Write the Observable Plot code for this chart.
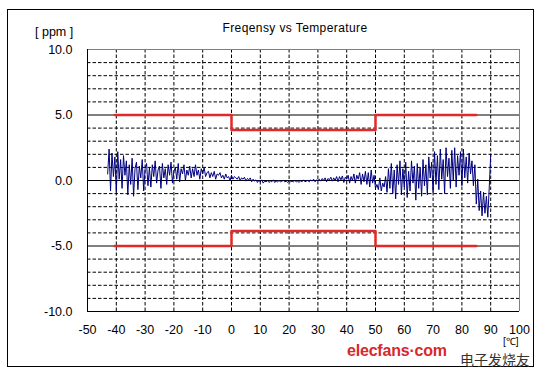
<!DOCTYPE html>
<html>
<head>
<meta charset="utf-8">
<script src="https://cdn.jsdelivr.net/npm/d3@7"></script>
<script src="https://cdn.jsdelivr.net/npm/@observablehq/plot@0.6"></script>
<style>
  html, body { margin: 0; padding: 0; background: #fff; }
  #wrap { position: relative; width: 550px; height: 372px; font-family: "Liberation Sans", Arial, sans-serif; }
  #frame { position: absolute; left: 7px; top: 9px; width: 525px; height: 356px; border: 1px solid #000; pointer-events: none; }
  .lbl { position: absolute; white-space: nowrap; color: #000; line-height: 1; }
</style>
</head>
<body>
<div id="wrap">
  <div id="chart"></div>
  <div id="frame"></div>
  <div class="lbl" id="title" style="left:0;width:590px;text-align:center;top:22px;font-size:12px;letter-spacing:0.4px;">Freqensy vs Temperature</div>
  <div class="lbl" style="left:35px;top:26px;font-size:12.5px;">[ ppm ]</div>
  <div class="lbl" style="left:503px;top:337px;font-size:10px;">[℃]</div>
  <div class="lbl" style="left:347px;top:343px;font-size:16px;font-weight:bold;color:#d8282a;letter-spacing:-0.2px;">elecfans·com</div>
  <div class="lbl" style="left:460px;top:352px;font-size:14px;color:#333;font-family:'Noto Sans CJK SC';">电子发烧友</div>
</div>
<script>
// Temperature (°C) sampling start and step of the measured frequency deviation (ppm)
const tempStart = -43;
const tempStep = 0.5;
const deviation = [
  0.5, 2.4, -0.8, 2.1, 0.3, 1.8, -0.9, 2.2, 0.1, 1.6,
  -0.6, 1.9, 0.4, 1.5, -1.1, 1.2, -0.3, 1.7, -1.2, 0.9,
  1.4, -0.7, 1.1, 0.2, 1.6, -0.8, 0.9, 1.3, -0.4, 1.0,
  -0.5, 1.2, 0.3, 1.5, -0.2, 0.8, 1.1, -0.6, 1.3, 0.2,
  0.9, -0.3, 1.2, 0.4, 1.4, -0.2, 0.7, 1.0, 0.1, 1.3,
  -0.1, 0.9, 0.5, 1.2, 0.0, 0.8, 0.4, 1.1, 0.2, 0.9,
  0.3, 1.2, 0.4, 0.8, 0.1, 0.9, 0.5, 1.0, 0.3, 0.6,
  0.7, 0.2, 0.6, 0.3, 0.7, 0.1, 0.5, 0.4, 0.6, 0.2,
  0.4, 0.1, 0.5, 0.2, 0.3, 0.0, 0.4, 0.1, 0.3, 0.2,
  0.1, 0.3, 0.0, 0.2, 0.1, 0.25, -0.05, 0.15, 0.05, 0.2,
  -0.1, 0.1, -0.05, 0.05, -0.15, 0.0, -0.1, 0.05, -0.2, -0.05,
  -0.1, 0.0, -0.15, -0.05, -0.1, 0.05, -0.15, -0.05, -0.1, 0.0,
  -0.1, -0.05, 0.0, -0.1, -0.05, -0.15, 0.0, -0.1, -0.05, -0.1,
  0.0, -0.1, -0.05, -0.15, 0.0, -0.1, 0.05, -0.1, -0.05, 0.0,
  -0.1, 0.05, -0.05, 0.1, -0.1, 0.05, 0.0, 0.1, -0.05, 0.15,
  0.0, 0.2, -0.1, 0.15, 0.05, 0.25, -0.05, 0.2, 0.0, 0.3,
  -0.1, 0.3, 0.05, 0.35, -0.15, 0.25, 0.1, 0.4, -0.2, 0.3,
  0.0, 0.5, -0.2, 0.4, 0.1, 0.6, -0.3, 0.5, -0.1, 0.7,
  -0.3, 0.6, -0.5, 0.8, -0.2, 0.4, -0.6, -0.3, -0.7, 0.2,
  -0.8, -0.2, -0.5, 0.3, -0.9, 0.9, -0.6, 1.3, -1.0, 0.8,
  -1.4, 1.2, -0.3, 1.5, -1.1, 0.9, -0.5, 1.4, -1.3, 0.7,
  -0.8, 1.5, -0.2, 1.1, -1.5, 1.3, -0.6, 1.0, -1.2, 1.6,
  -0.4, 1.2, -1.1, 1.8, 0.2, 1.4, -0.9, 2.2, -0.3, 1.9,
  -0.7, 2.4, 0.1, 1.6, -1.0, 2.5, 0.3, 1.7, -0.6, 2.3,
  0.0, 2.5, -0.5, 1.9, 0.4, 2.2, -0.4, 2.4, 0.2, 1.8,
  -0.2, 2.1, 0.5, 1.5, -0.4, 1.2, -1.8, 0.1, -2.3, -0.8,
  -2.7, -0.9, -2.5, -1.2, -2.8, -0.5, 1.9
];

// Specification limits (step functions)
const limitTemps = [-40.5, 0, 50, 85];
const upperLimit = [5, 3.85, 5, 5];
const lowerLimit = [-5, -3.85, -5, -5];

// Axis ticks
const xTicks = [-50, -40, -30, -20, -10, 0, 10, 20, 30, 40, 50, 60, 70, 80, 90, 100];
const yTicks = [-10, -5, 0, 5, 10];
const xGrid = [-40, -30, -20, -10, 0, 10, 20, 30, 40, 50, 60, 70, 80, 90];
const yMinorGrid = [-9, -8, -7, -6, -4, -3, -2, -1, 1, 2, 3, 4, 6, 7, 8, 9];
const ySolidGrid = [-5, 0, 5];

const measured = deviation.map((v, i) => ({ t: tempStart + i * tempStep, v }));
const upper = limitTemps.map((t, i) => ({ t, v: upperLimit[i] }));
const lower = limitTemps.map((t, i) => ({ t, v: lowerLimit[i] }));

const dash = "3.5,2";
const chart = Plot.plot({
  width: 550,
  height: 372,
  marginLeft: 87,
  marginRight: 31,
  marginTop: 49,
  marginBottom: 61,
  style: { fontFamily: "'Liberation Sans', Arial, sans-serif", fontSize: "12.5px", color: "#000", background: "transparent" },
  x: { domain: [-50, 100] },
  y: { domain: [-10, 10] },
  marks: [
    Plot.ruleX(xGrid, { stroke: "#000", strokeDasharray: dash, strokeWidth: 1, strokeOpacity: 1 }),
    Plot.ruleY(yMinorGrid, { stroke: "#000", strokeDasharray: dash, strokeWidth: 1 }),
    Plot.ruleY(ySolidGrid, { stroke: "#000", strokeWidth: 1 }),
    Plot.ruleY([10], { stroke: "#808080" }),
    Plot.ruleX([100], { stroke: "#808080" }),
    Plot.ruleX([-50], { stroke: "#000" }),
    Plot.ruleY([-10], { stroke: "#000" }),
    Plot.line(measured, { x: "t", y: "v", stroke: "#000080", strokeWidth: 1 }),
    Plot.line(upper, { x: "t", y: "v", curve: "step-after", stroke: "#e02a2a", strokeWidth: 2.5 }),
    Plot.line(lower, { x: "t", y: "v", curve: "step-after", stroke: "#e02a2a", strokeWidth: 2.5 }),
    Plot.axisX({ ticks: xTicks, tickSize: 0, tickPadding: 14, label: null, tickFormat: d => String(d) }),
    Plot.axisY({ ticks: yTicks, tickSize: 0, tickPadding: 15, label: null, tickFormat: d => d.toFixed(1) })
  ]
});
document.getElementById("chart").appendChild(chart);
</script>
</body>
</html>
